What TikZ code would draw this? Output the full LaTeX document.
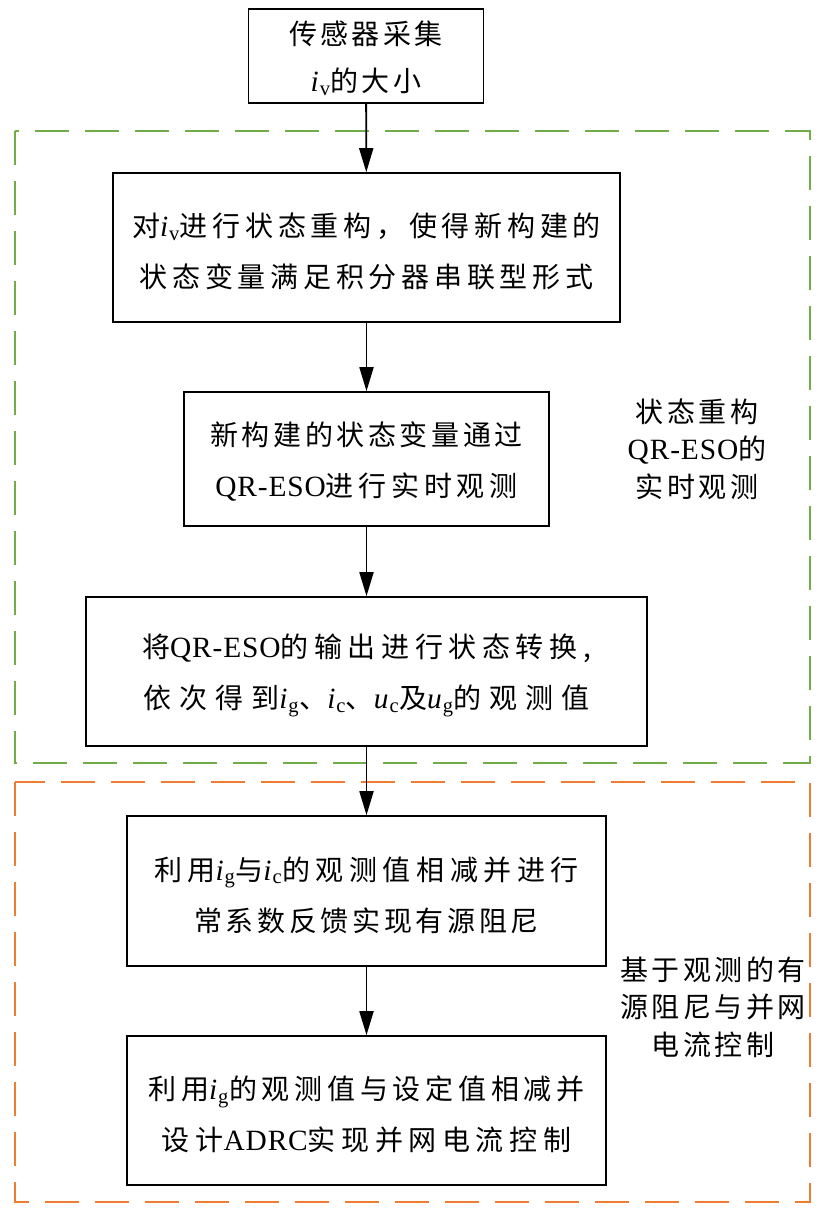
\documentclass[tikz,border=0pt]{standalone}
\usepackage{fontspec}
\setmainfont{Noto Sans CJK SC}[LetterSpace=12]
\newfontfamily\zA{Noto Sans CJK SC}[LetterSpace=13]
\newfontfamily\zB{Noto Sans CJK SC}[LetterSpace=17]
\newfontfamily\zC{Noto Sans CJK SC}[LetterSpace=20]
\newfontfamily\zE{Noto Sans CJK SC}[LetterSpace=29]
\newfontfamily\lat{Liberation Serif}[Scale=1.05,LetterSpace=3]
\usetikzlibrary{arrows.meta}
\definecolor{dgreen}{RGB}{112,173,71}
\definecolor{dorange}{RGB}{237,125,49}
\newcommand\vsub[2]{{\lat\textit{#1}\textsubscript{#2}}}
\newcommand\la[1]{{\lat #1}}
\tikzset{
  box/.style={draw=black, line width=1.6pt, inner sep=0pt},
  txt/.style={align=center, inner sep=0pt, yshift=-4pt,
    font=\fontsize{28}{51}\selectfont},
  arr/.style={line width=1.8pt, -{Triangle[length=24pt,width=14pt]}},
  grp/.style={line width=1.5pt, dash pattern=on 34pt off 16pt},
  side/.style={align=center, font=\fontsize{28}{37.5}\selectfont}
}
\begin{document}
\begin{tikzpicture}[x=1pt,y=-1pt]
\useasboundingbox (0,0) rectangle (827,1226);
\draw[grp, dgreen] (15,131) rectangle (810,763);
\draw[grp, dorange] (15,782) rectangle (810,1202);
\node[box, minimum width=235pt, minimum height=94pt] (n1) at (366,56) {};
\node[box, minimum width=507pt, minimum height=149pt] (n2) at (366.5,247.5) {};
\node[box, minimum width=365pt, minimum height=134pt] (n3) at (366.5,459) {};
\node[box, minimum width=561pt, minimum height=149pt] (n4) at (366.5,671.5) {};
\node[box, minimum width=479pt, minimum height=150pt] (n5) at (366.5,891) {};
\node[box, minimum width=479pt, minimum height=149pt] (n6) at (366.5,1110.5) {};
\node[txt, yshift=2pt, font=\fontsize{28}{47}\selectfont] (t1) at (n1) {传感器采集\\\vsub{i}{v}的大小};
\node[txt] (t2) at (n2) {{\zB 对\vsub{i}{v}进行状态重构，使得新构建的}\\{\zB 状态变量满足积分器串联型形式}};
\node[txt, yshift=2pt] (t3) at (n3) {{\zA 新构建的状态变量通过}\\{\zB \la{QR-ESO}进行实时观测}};
\node[txt] (t4) at (n4) {{\zC 将\la{QR-ESO}的输出进行状态转换,}\\{\zE 依次得到\vsub{i}{g}、\vsub{i}{c}、\vsub{u}{c}及\vsub{u}{g}的观测值}};
\node[txt] (t5) at (n5) {{\zC 利用\vsub{i}{g}与\vsub{i}{c}的观测值相减并进行}\\{\zA 常系数反馈实现有源阻尼}};
\node[txt] (t6) at (n6) {{\zB 利用\vsub{i}{g}的观测值与设定值相减并}\\{\zC 设计\la{ADRC}实现并网电流控制}};
\node[side] (s1) at (697,449) {状态重构\\\la{QR-ESO}的\\实时观测};
\node[side] (s2) at (713,1007) {基于观测的有\\源阻尼与并网\\电流控制};
\draw[arr] (n1) -- (n2);
\draw[arr] (n2) -- (n3);
\draw[arr] (n3) -- (n4);
\draw[arr] (n4) -- (n5);
\draw[arr] (n5) -- (n6);
\end{tikzpicture}
\end{document}
